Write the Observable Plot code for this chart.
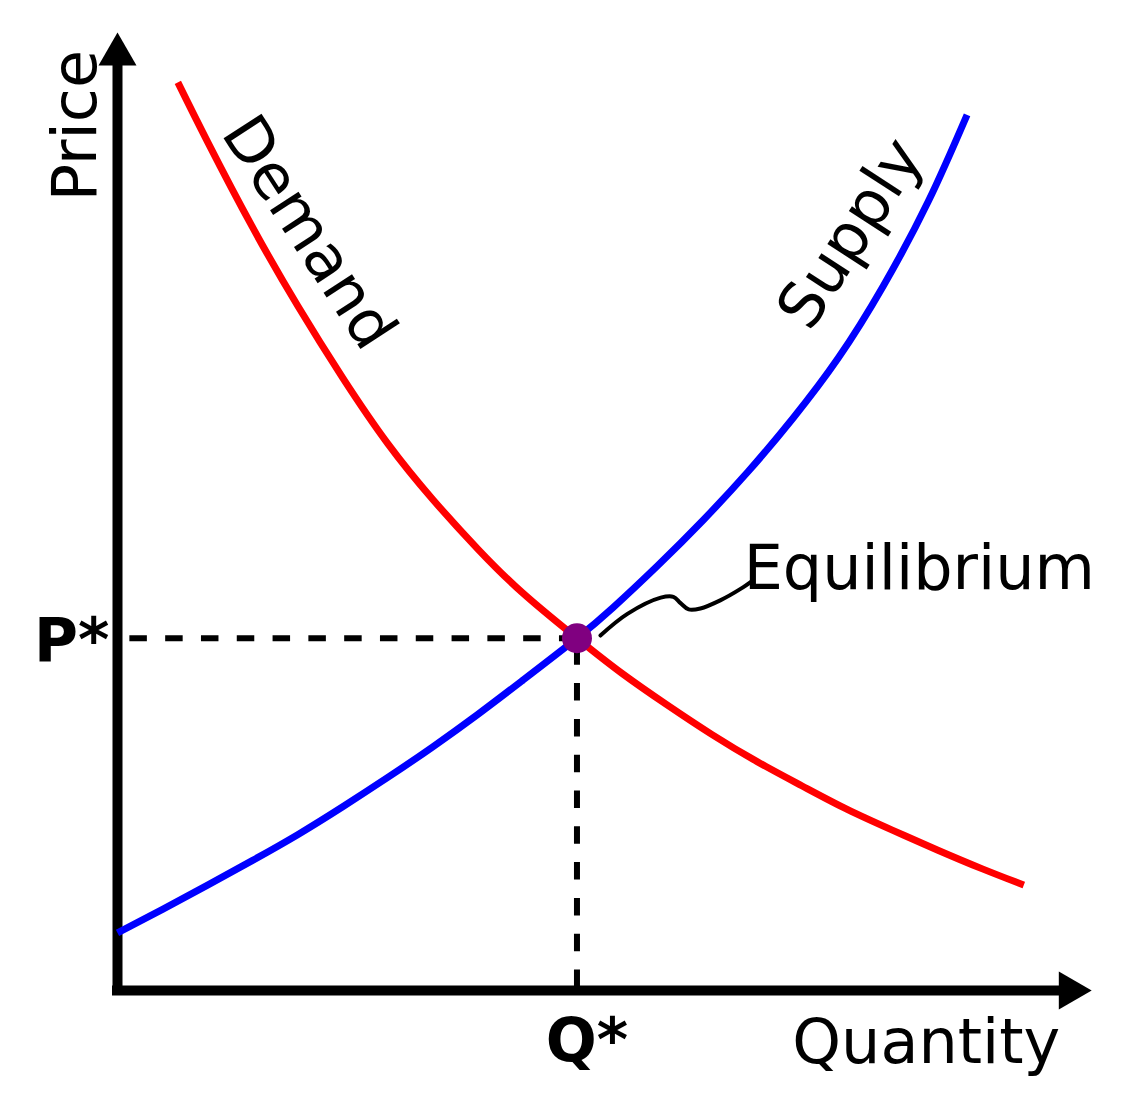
<!DOCTYPE html>
<html>
<head>
<meta charset="utf-8">
<script src="https://cdn.jsdelivr.net/npm/d3@7"></script>
<script src="https://cdn.jsdelivr.net/npm/@observablehq/plot@0.6"></script>
<style>
  html, body { margin: 0; padding: 0; background: #ffffff; }
  #chart svg { display: block; }
</style>
</head>
<body>
<div id="chart"></div>
<script>
// ---- Data (in quantity / price units) ----
const demandQ = [0.67, 1.0, 1.5, 2.0, 2.5, 3.0, 3.5, 4.0, 4.5, 5.1, 5.6, 6.1, 6.6, 7.1, 7.6, 8.1, 8.6, 9.1, 9.6, 10.06];
const demandP = [10.08, 9.42, 8.47, 7.60, 6.80, 6.07, 5.45, 4.90, 4.41, 3.91, 3.52, 3.17, 2.84, 2.54, 2.27, 2.01, 1.78, 1.56, 1.35, 1.17];

const supplyQ = [0.0, 0.5, 1.0, 1.5, 2.0, 2.5, 3.0, 3.5, 4.0, 4.5, 5.1, 5.5, 6.0, 6.5, 7.0, 7.5, 8.0, 8.5, 9.0, 9.43];
const supplyP = [0.64, 0.90, 1.17, 1.445, 1.73, 2.04, 2.365, 2.705, 3.065, 3.445, 3.91, 4.25, 4.72, 5.22, 5.76, 6.355, 7.02, 7.82, 8.76, 9.72];

const equilibriumQ = 5.10;
const equilibriumP = 3.91;

// hand-drawn connector from the equilibrium point to its label
const connectorQ = [5.36, 5.66, 6.03, 6.17, 6.25, 6.34, 6.47, 6.69, 6.92, 7.05];
const connectorP = [3.94, 4.18, 4.36, 4.37, 4.30, 4.23, 4.24, 4.33, 4.46, 4.55];

const labels = {
  price: "Price",
  quantity: "Quantity",
  demand: "Demand",
  supply: "Supply",
  equilibrium: "Equilibrium",
  pStar: "P*",
  qStar: "Q*"
};

// ---- Tables built from the arrays ----
const demand = demandQ.map((q, i) => ({q, p: demandP[i]}));
const supply = supplyQ.map((q, i) => ({q, p: supplyP[i]}));
const connector = connectorQ.map((q, i) => ({q, p: connectorP[i]}));
const eq = [{q: equilibriumQ, p: equilibriumP}];

const font = "DejaVu Sans";
const dash = "17.5,18.3";
const fs = 62;

const chart = Plot.plot({
  width: 1136,
  height: 1099,
  marginLeft: 117,
  marginRight: 46,
  marginTop: 35,
  marginBottom: 109,
  x: {domain: [0, 10.8], axis: null},
  y: {domain: [0, 10.6], axis: null},
  style: {background: "#ffffff", fontFamily: font},
  marks: [
    // dashed guides
    Plot.ruleY(eq, {y: "p", x1: "q", x2: 0, stroke: "black", strokeWidth: 6, strokeDasharray: dash}),
    Plot.ruleX(eq, {x: "q", y1: 0, y2: "p", stroke: "black", strokeWidth: 6, strokeDasharray: dash, strokeDashoffset: 32.8}),
    // axes
    Plot.ruleX([0], {y1: 0, y2: 10.3, stroke: "black", strokeWidth: 10, strokeLinecap: "square"}),
    Plot.ruleY([0], {x1: 0, x2: 10.45, stroke: "black", strokeWidth: 10, strokeLinecap: "square"}),
    Plot.dot([{q: 0, p: 10.39}], {x: "q", y: "p", symbol: "triangle", r: 14.1, fill: "black", stroke: null}),
    Plot.dot([{q: 10.57, p: 0}], {x: "q", y: "p", symbol: "triangle", r: 14.1, fill: "black", stroke: null, rotate: 90}),
    // curves
    Plot.line(demand, {x: "q", y: "p", stroke: "#ff0000", strokeWidth: 7, curve: "natural", strokeLinecap: "butt"}),
    Plot.line(supply, {x: "q", y: "p", stroke: "#0000ff", strokeWidth: 7, curve: "natural", strokeLinecap: "butt"}),
    // equilibrium point
    Plot.dot(eq, {x: "q", y: "p", r: 15, fill: "#800080", stroke: null}),
    Plot.line(connector, {x: "q", y: "p", stroke: "black", strokeWidth: 4, curve: "catmull-rom", strokeLinecap: "round"}),
    // labels
    Plot.text([labels.price], {x: -0.244, y: 9.60, text: d => d, rotate: -90, fontSize: fs, fontFamily: font, fill: "black", textAnchor: "middle", lineAnchor: "bottom"}),
    Plot.text([labels.quantity], {x: 7.49, y: -0.80, text: d => d, fontSize: fs, fontFamily: font, fill: "black", textAnchor: "start", lineAnchor: "bottom"}),
    Plot.text([labels.demand], {x: 2.12, y: 8.41, text: d => d, rotate: 57, fontSize: fs, fontFamily: font, fill: "black", textAnchor: "middle", lineAnchor: "middle"}),
    Plot.text([labels.supply], {x: 8.14, y: 8.40, text: d => d, rotate: -57, fontSize: fs, fontFamily: font, fill: "black", textAnchor: "middle", lineAnchor: "middle"}),
    Plot.text([labels.equilibrium], {x: 6.95, y: 4.46, text: d => d, fontSize: fs, fontFamily: font, fill: "black", textAnchor: "start", lineAnchor: "bottom"}),
    Plot.text([labels.pStar], {x: -0.09, y: 3.66, text: d => d, fontSize: 60, fontWeight: "bold", fontFamily: font, fill: "black", textAnchor: "end", lineAnchor: "bottom"}),
    Plot.text([labels.qStar], {x: 5.21, y: -0.777, text: d => d, fontSize: 60, fontWeight: "bold", fontFamily: font, fill: "black", textAnchor: "middle", lineAnchor: "bottom"})
  ]
});

document.getElementById("chart").appendChild(chart);
</script>
</body>
</html>
